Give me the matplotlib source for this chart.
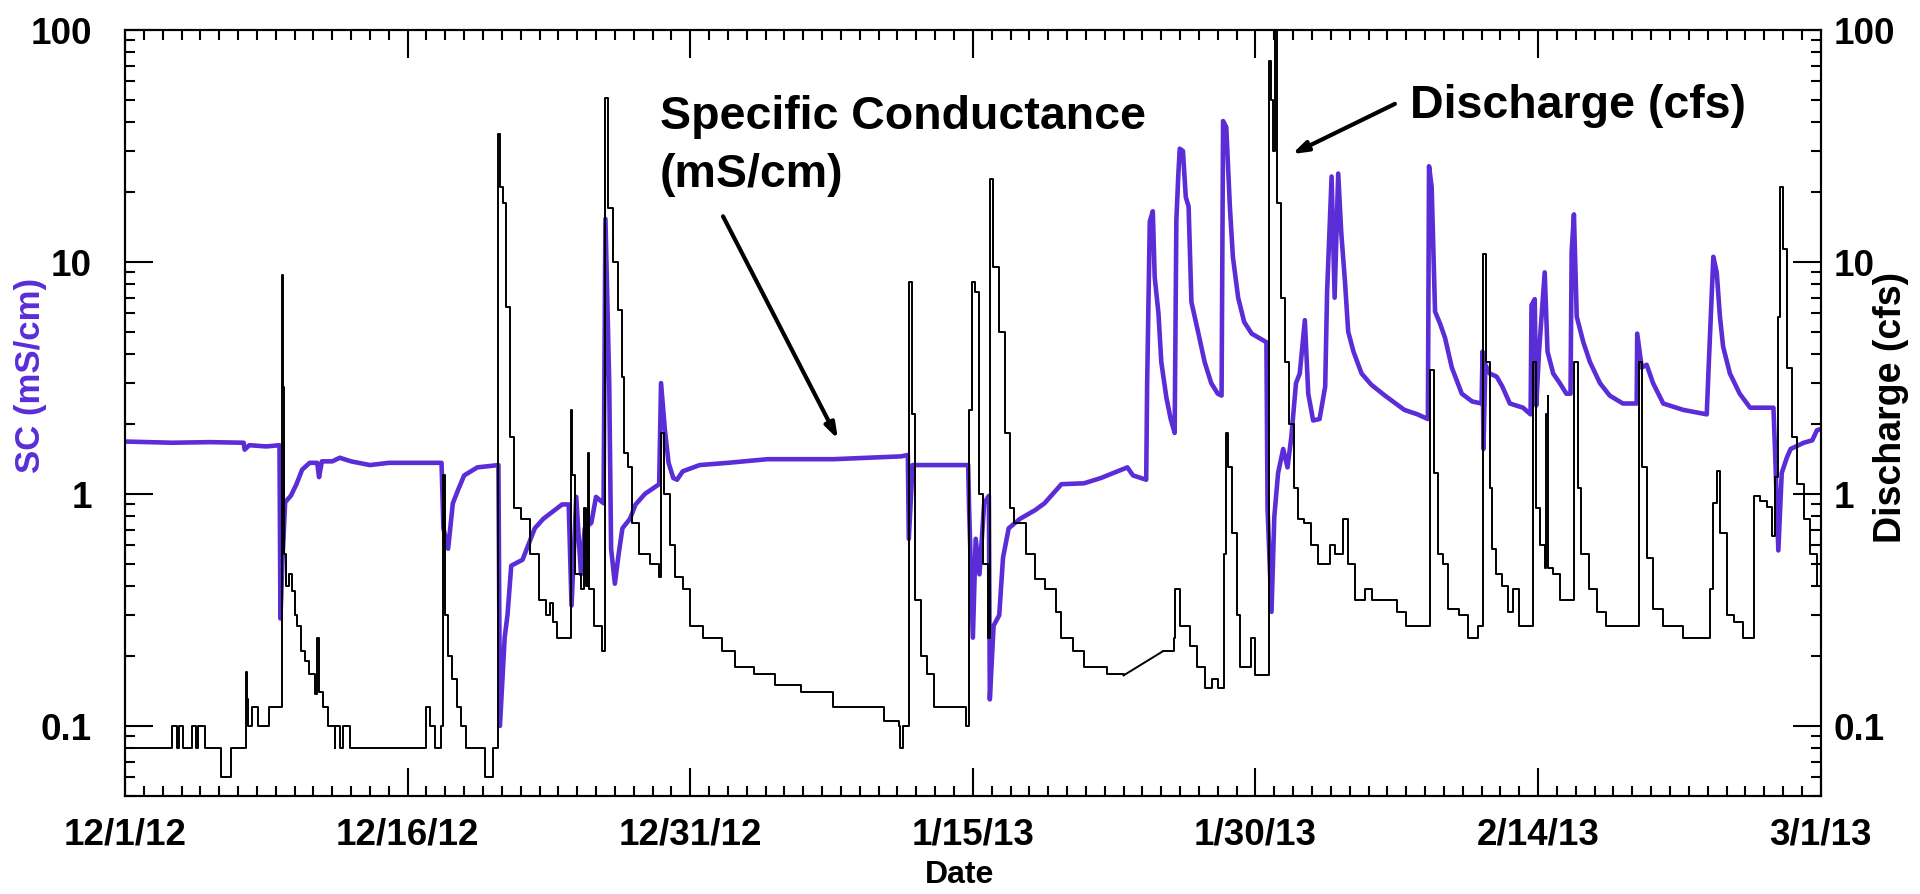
import numpy as np
import matplotlib
matplotlib.use("Agg")
import matplotlib.pyplot as plt
from matplotlib.ticker import FixedLocator, MultipleLocator, LogLocator, NullFormatter

plt.rcParams['font.family'] = ['Liberation Sans', 'DejaVu Sans']
plt.rcParams['font.weight'] = 'bold'

# x axis: days since 12/1/12
tick_days = [0, 15, 30, 45, 60, 75, 90]
tick_labels = ['12/1/12', '12/16/12', '12/31/12', '1/15/13', '1/30/13', '2/14/13', '3/1/13']
y_ticks = [0.1, 1, 10, 100]
y_labels = ['0.1', '1', '10', '100']

# discharge (cfs)
q_day = [0.0, 2.5, 2.52, 2.75, 2.77, 2.85, 2.87, 3.05, 3.07, 3.55, 3.57, 3.75, 3.77, 3.85, 3.87, 4.25, 4.27,
         5.08, 5.1, 5.6, 5.62, 6.35, 6.4, 6.5, 6.55, 6.7, 6.72, 7.05, 7.07, 7.6, 7.62, 8.28, 8.32, 8.38,
         8.45, 8.55, 8.7, 8.85, 9.0, 9.15, 9.35, 9.55, 9.75, 10.1, 10.2, 10.3, 10.5, 10.75, 11.15, 11.17,
         11.4, 11.42, 11.55, 11.57, 11.9, 11.92, 15.95, 15.97, 16.15, 16.17, 16.45, 16.47, 16.75, 16.77,
         16.85, 16.9, 17.0, 17.15, 17.35, 17.6, 17.85, 18.1, 19.1, 19.12, 19.5, 19.52, 19.78, 19.82, 19.9,
         20.05, 20.2, 20.45, 20.65, 21.0, 21.5, 21.95, 22.35, 22.55, 22.7, 22.95, 23.6, 23.68, 23.75, 23.9,
         24.2, 24.35, 24.45, 24.55, 24.65, 24.9, 25.3, 25.45, 25.5, 25.65, 25.9, 26.15, 26.4, 26.5, 26.7,
         26.9, 27.3, 27.85, 28.35, 28.45, 28.6, 28.9, 29.2, 29.6, 30.0, 30.7, 31.7, 32.4, 33.4, 34.5, 35.9,
         37.6, 40.3, 41.1, 41.15, 41.3, 41.55, 41.6, 41.75, 41.95, 42.25, 42.55, 42.95, 44.55, 44.65, 44.75,
         44.8, 44.95, 45.1, 45.3, 45.55, 45.8, 45.9, 46.07, 46.4, 46.7, 46.95, 47.2, 47.8, 48.3, 48.85, 49.4,
         49.7, 50.3, 50.9, 52.1, 53.0, 55.1, 55.7, 55.75, 56.0, 56.5, 56.9, 57.3, 57.7, 58.0, 58.2, 58.35,
         58.46, 58.55, 58.75, 59.0, 59.2, 59.5, 59.75, 60.0, 60.6, 60.7, 60.8, 60.95, 61.05, 61.15, 61.38,
         61.55, 61.8, 62.05, 62.27, 62.6, 62.95, 63.33, 63.7, 63.95, 64.2, 64.66, 64.9, 65.28, 65.8, 66.2,
         67.05, 67.5, 68.0, 69.2, 69.26, 69.45, 69.7, 69.95, 70.24, 70.8, 71.3, 71.8, 72.05, 72.1, 72.25,
         72.43, 72.55, 72.79, 73.1, 73.4, 73.65, 74.0, 74.65, 74.73, 74.9, 75.1, 75.35, 75.42, 75.5, 75.55,
         75.8, 76.15, 76.86, 76.92, 77.1, 77.3, 77.7, 78.1, 78.6, 80.3, 80.37, 80.5, 80.76, 81.1, 81.64,
         82.7, 84.03, 84.1, 84.3, 84.48, 84.65, 85.0, 85.4, 85.9, 86.43, 86.46, 86.8, 87.15, 87.4, 87.55,
         87.75, 87.84, 88.0, 88.2, 88.45, 88.73, 89.1, 89.45, 89.8, 90.0]
q_cfs = [0.08, 0.08, 0.1, 0.1, 0.08, 0.08, 0.1, 0.1, 0.08, 0.08, 0.1, 0.1, 0.08, 0.08, 0.1, 0.1, 0.08,
         0.08, 0.06, 0.06, 0.08, 0.08, 0.17, 0.13, 0.1, 0.1, 0.12, 0.12, 0.1, 0.1, 0.12, 0.12, 8.8, 2.9,
         0.55, 0.4, 0.45, 0.38, 0.3, 0.27, 0.21, 0.19, 0.167, 0.137, 0.24, 0.14, 0.12, 0.1, 0.08, 0.1,
         0.1, 0.08, 0.08, 0.1, 0.1, 0.08, 0.08, 0.12, 0.12, 0.1, 0.1, 0.08, 0.08, 0.1,
         0.1, 1.2, 0.3, 0.2, 0.16, 0.12, 0.1, 0.08, 0.08, 0.06, 0.06, 0.08, 0.08, 35.7, 21,
         18, 6.4, 1.75, 0.87, 0.78, 0.55, 0.35, 0.3, 0.34, 0.28, 0.24, 0.24, 2.3, 1.2, 0.45,
         0.39, 0.87, 0.4, 1.5, 0.39, 0.27, 0.21, 0.21, 50.6, 17, 10, 6.2, 3.2, 1.5, 1.3,
         0.75, 0.55, 0.5, 0.44, 1.83, 1.0, 0.6, 0.44, 0.39, 0.27, 0.24, 0.21, 0.18, 0.167, 0.15, 0.14,
         0.12, 0.105, 0.1, 0.08, 0.1, 0.1, 8.2, 2.2, 0.35, 0.2, 0.167, 0.12, 0.12, 0.1, 0.1,
         2.3, 8.2, 7.4, 1.0, 0.5, 0.24, 22.7, 9.5, 5.0, 1.83, 0.87, 0.75, 0.55, 0.43, 0.39, 0.31,
         0.24, 0.21, 0.18, 0.167, 0.165, 0.21, 0.24, 0.39, 0.27, 0.22, 0.18, 0.145, 0.16, 0.145, 0.145, 0.55,
         1.83, 1.3, 0.68, 0.3, 0.18, 0.18, 0.24, 0.165, 0.165, 73.6, 50, 30, 100, 18, 7,
         3.7, 2.0, 1.06, 0.78, 0.75, 0.6, 0.5, 0.5, 0.6, 0.55, 0.78, 0.5, 0.35, 0.39, 0.35,
         0.35, 0.31, 0.27, 0.27, 3.4, 1.23, 0.55, 0.5, 0.32, 0.3, 0.24, 0.27, 0.27, 10.8, 3.7,
         1.06, 0.58, 0.45, 0.4, 0.31, 0.39, 0.27, 0.27, 3.7, 0.87, 0.6, 0.48, 2.2, 2.65, 0.48,
         0.45, 0.35, 0.35, 3.7, 1.06, 0.55, 0.39, 0.31, 0.27, 0.27, 3.7, 1.3, 0.53, 0.32, 0.27,
         0.24, 0.24, 0.39, 0.91, 1.25, 0.68, 0.3, 0.28, 0.24, 0.24, 0.98, 0.93, 0.88, 0.66, 1.18,
         5.8, 21, 11.3, 3.5, 1.75, 1.1, 0.78, 0.55, 0.4, 0.38]
gap_start = 53.0  # logger gap, drawn as a straight segment

# specific conductance (mS/cm)
sc_day = [0.0, 2.5, 4.5, 6.3, 6.35, 6.6, 7.5, 8.2, 8.25, 8.35, 8.5, 8.8, 9.1, 9.4, 9.8, 10.2, 10.3, 10.45,
          11.0, 11.4, 12.0, 13.0, 14.0, 16.8, 16.9, 17.15, 17.4, 17.7, 18.0, 18.7, 19.82, 19.9, 20.15,
          20.3, 20.5, 21.1, 21.75, 22.2, 22.8, 23.2, 23.55, 23.7, 23.95, 24.2, 24.4, 24.75, 25.0, 25.4,
          25.5, 25.7, 25.8, 26.0, 26.2, 26.4, 26.8, 27.1, 27.6, 28.35, 28.45, 28.65, 28.85, 29.1, 29.3,
          29.6, 30.5, 32.0, 34.1, 37.6, 41.2, 41.55, 41.6, 41.8, 42.5, 44.75, 44.8, 45.0, 45.15, 45.35,
          45.6, 45.85, 45.9, 46.1, 46.4, 46.6, 46.9, 47.5, 48.3, 48.8, 49.7, 50.9, 51.8, 53.2, 53.5, 54.2,
          54.25, 54.39, 54.55, 54.65, 54.85, 55.0, 55.27, 55.5, 55.71, 55.8, 55.9, 55.98, 56.15, 56.3,
          56.45, 56.6, 56.95, 57.3, 57.65, 58.0, 58.2, 58.28, 58.45, 58.64, 58.8, 59.08, 59.4, 59.8, 60.58,
          60.64, 60.85, 61.0, 61.2, 61.47, 61.7, 61.9, 62.15, 62.35, 62.62, 62.8, 63.06, 63.4, 63.7, 63.8,
          64.04, 64.2, 64.39, 64.55, 64.75, 64.92, 65.2, 65.63, 66.15, 66.87, 67.9, 68.6, 69.15, 69.21,
          69.35, 69.53, 69.8, 70.06, 70.42, 70.95, 71.5, 72.0, 72.05, 72.1, 72.2, 72.43, 72.8, 73.1, 73.5,
          74.2, 74.6, 74.65, 74.82, 74.9, 75.05, 75.35, 75.5, 75.8, 76.15, 76.5, 76.72, 76.78, 76.9, 77.05,
          77.4, 77.75, 78.28, 78.8, 79.5, 80.23, 80.26, 80.5, 80.76, 81.1, 81.64, 82.7, 83.95, 84.05, 84.3,
          84.48, 84.65, 84.82, 85.18, 85.7, 86.25, 87.49, 87.58, 87.75, 87.93, 88.2, 88.4, 89.1, 89.55,
          89.8, 90.0]
sc_val = [1.68, 1.66, 1.67, 1.66, 1.55, 1.62, 1.6, 1.62, 0.29, 0.5, 0.92, 0.98, 1.1, 1.27, 1.36, 1.36, 1.18,
          1.38, 1.38, 1.43, 1.38, 1.33, 1.36, 1.36, 0.71, 0.58, 0.91, 1.05, 1.2, 1.3, 1.33, 0.1, 0.24,
          0.3, 0.49, 0.52, 0.71, 0.78, 0.85, 0.9, 0.9, 0.33, 0.97, 0.45, 0.71, 0.75, 0.97, 0.91,
          15.3, 3.0, 0.58, 0.41, 0.55, 0.71, 0.78, 0.9, 1.0, 1.1, 3.0, 1.9, 1.36, 1.17, 1.15,
          1.25, 1.33, 1.36, 1.41, 1.41, 1.45, 1.47, 0.64, 1.33, 1.33, 1.33, 0.87, 0.24, 0.64, 0.45,
          0.91, 0.98, 0.13, 0.27, 0.3, 0.53, 0.71, 0.78, 0.85, 0.91, 1.1, 1.11, 1.17, 1.3, 1.2, 1.15,
          3.0, 14.9, 16.5, 8.6, 6.0, 3.7, 2.6, 2.1, 1.83, 15, 23.3, 30.7, 30, 19,
          17.3, 6.7, 5, 3.7, 3.0, 2.7, 2.65, 40.4, 38, 17.3, 10.5, 7, 5.5, 4.9, 4.5,
          0.87, 0.31, 0.8, 1.23, 1.56, 1.3, 1.75, 3.0, 3.3, 5.6, 2.7, 2.07, 2.1, 2.9, 7.4,
          23.3, 7, 24, 13.4, 8.2, 5, 4.1, 3.3, 2.95, 2.65, 2.3, 2.2, 2.1, 25.8,
          21, 6.1, 5.4, 4.7, 3.5, 2.7, 2.5, 2.45, 4.1, 1.56, 3.6, 3.3, 3.2, 2.9, 2.45,
          2.35, 2.2, 6.5, 6.9, 2.4, 4.1, 9.0, 4.1, 3.3, 3.0, 2.7, 2.7, 11, 16, 5.8,
          4.5, 3.7, 3.0, 2.65, 2.45, 2.45, 4.9, 3.5, 3.6, 3.0, 2.45, 2.3, 2.2, 3.5, 10.5,
          9, 5.8, 4.3, 3.3, 2.7, 2.35, 2.35, 1.5, 0.57, 1.23, 1.43, 1.56, 1.66, 1.7,
          1.88, 1.9]

sc_color = '#5a2dd7'

fig = plt.figure(figsize=(19.2, 8.95), dpi=100)
ax = fig.add_subplot(111)
fig.subplots_adjust(left=0.0651, right=0.9483, bottom=0.1098, top=0.9657)

ax.plot(sc_day, sc_val, color=sc_color, lw=3.3, zorder=2)

# discharge is a stepped record, with one gap bridged by a straight line
g = q_day.index(gap_start)
ax.plot(q_day[:g + 1], q_cfs[:g + 1], color='black', lw=1.4, drawstyle='steps-post', zorder=3)
ax.plot(q_day[g:g + 2], q_cfs[g:g + 2], color='black', lw=1.4, zorder=3)
ax.plot(q_day[g + 1:], q_cfs[g + 1:], color='black', lw=1.4, drawstyle='steps-post', zorder=3)

ax.set_yscale('log')
ax.set_ylim(0.05, 100)
ax.set_xlim(0, 90)

ax.xaxis.set_major_locator(FixedLocator(tick_days))
ax.set_xticklabels(tick_labels)
ax.xaxis.set_minor_locator(MultipleLocator(1))
ax.yaxis.set_major_locator(FixedLocator(y_ticks))
ax.set_yticklabels(y_labels)
ax.yaxis.set_minor_locator(LogLocator(base=10, subs=np.arange(2, 10)))
ax.yaxis.set_minor_formatter(NullFormatter())

ax2 = ax.twinx()
ax2.set_yscale('log')
ax2.set_ylim(0.05, 100)
ax2.yaxis.set_major_locator(FixedLocator(y_ticks))
ax2.set_yticklabels(y_labels)
ax2.yaxis.set_minor_locator(LogLocator(base=10, subs=np.arange(2, 10)))
ax2.yaxis.set_minor_formatter(NullFormatter())

for a in (ax, ax2):
    for s in a.spines.values():
        s.set_linewidth(1.5)
ax.tick_params(which='both', direction='in', top=True, right=False, width=1.5)
ax.tick_params(which='major', length=20)
ax.tick_params(which='minor', length=7)
ax.tick_params(axis='x', which='major', labelsize=26.5, pad=15)
ax.tick_params(axis='y', which='major', labelsize=26.5, pad=24)
ax2.tick_params(which='both', direction='in', width=1.5)
ax2.tick_params(which='major', length=20, labelsize=26.5, pad=9)
ax2.tick_params(which='minor', length=7)

ax.set_ylabel('SC (mS/cm)', color=sc_color, fontsize=25, fontweight='bold')
ax.yaxis.set_label_coords(-0.046, 0.55)
ax2.set_ylabel('Discharge (cfs)', fontsize=27, fontweight='bold')
ax2.yaxis.set_label_coords(1.0308, 0.508)
fig.text(960 / 1920, 1 - 875 / 895, 'Date', fontsize=23, fontweight='bold', ha='center', va='center')

# annotations
fig.text(660 / 1920, 1 - 128.7 / 895, 'Specific Conductance', fontsize=33.5, fontweight='bold', va='baseline')
fig.text(660 / 1920, 1 - 187 / 895, '(mS/cm)', fontsize=33.5, fontweight='bold', va='baseline')
fig.text(1410 / 1920, 1 - 118 / 895, 'Discharge (cfs)', fontsize=33.5, fontweight='bold', va='baseline')

arrow = dict(arrowstyle='-|>,head_length=0.9,head_width=0.3', lw=3, color='black', shrinkA=0, shrinkB=0)
ax.annotate('', xy=(37.84, 1.72), xytext=(31.74, 15.7), arrowprops=arrow)
ax.annotate('', xy=(61.94, 29.1), xytext=(67.4, 47.9), arrowprops=arrow)

fig.savefig('out.png', dpi=100)
